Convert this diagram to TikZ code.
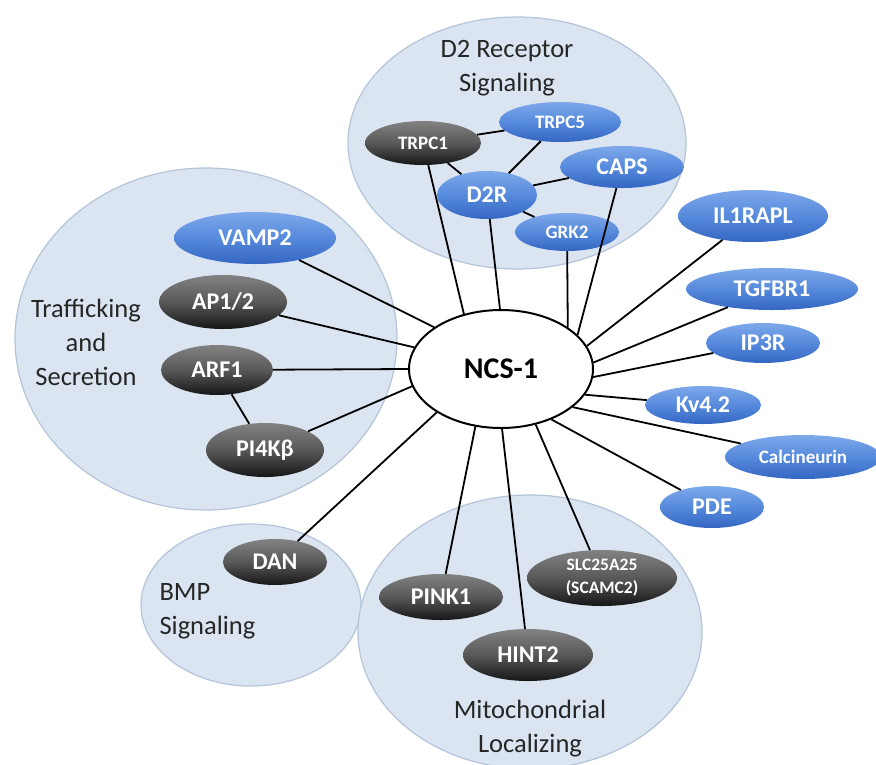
\documentclass[tikz,border=0pt]{standalone}
\usepackage{fontspec}
\setmainfont{Carlito}
\usetikzlibrary{shapes.geometric}
\usepackage{xcolor}

\definecolor{zonefill}{RGB}{219,229,241}
\definecolor{zoneline}{RGB}{180,196,218}
\definecolor{bluetop}{RGB}{126,168,234}
\definecolor{bluemid}{RGB}{86,138,220}
\definecolor{bluebot}{RGB}{52,102,194}
\definecolor{darktop}{RGB}{130,130,130}
\definecolor{darkmid}{RGB}{88,88,88}
\definecolor{darkbot}{RGB}{22,22,22}

\begin{document}
\begin{tikzpicture}[x=1pt,y=-1pt,
					zone/.style={draw=zoneline, line width=1.2pt, fill=zonefill},
					zonelabel/.style={align=center, text=black!85, font=\fontsize{26.5}{34}\selectfont},
					prot/.style={ellipse, inner sep=0pt, text=white, align=center, font=\fontsize{24}{28}\selectfont\bfseries},
					smalltext/.style={font=\fontsize{19}{23}\selectfont\bfseries},
					blueprot/.style={prot, top color=bluetop, bottom color=bluebot, middle color=bluemid},
					darkprot/.style={prot, top color=darktop, bottom color=darkbot, middle color=darkmid},
					link/.style={line width=1.8pt, black}]
    \useasboundingbox (0,0) rectangle (876,764);
    % Groups
    \draw[zone] (517,143) ellipse [x radius=169pt, y radius=126pt];
    \draw[zone] (206,339) ellipse [x radius=191pt, y radius=171pt];
    \draw[zone] (251,605) ellipse [x radius=110pt, y radius=81pt];
    \draw[zone] (530,632) ellipse [x radius=172pt, y radius=137pt];
    \node[zonelabel] (d2lbl) at (507,68) {D2 Receptor\\Signaling};
    \node[zonelabel] (traflbl) at (86,342) {Trafficking\\and\\Secretion};
    \node[zonelabel, align=left, anchor=west] (bmplbl) at (156,611) {BMP\\Signaling};
    \node[zonelabel] (mitolbl) at (530,729) {Mitochondrial\\Localizing};
    % Place nodes
    \node[draw, ellipse, line width=2pt, fill=white, inner sep=0pt, minimum width=184pt, minimum height=118pt,
    	font=\fontsize{30}{34}\selectfont\bfseries] (NCS) at (501,369) {NCS-1};
    \node[darkprot, smalltext, minimum width=116pt, minimum height=44pt] (TRPC1) at (423,143) {TRPC1};
    \node[blueprot, smalltext, minimum width=122pt, minimum height=40pt] (TRPC5) at (560,122) {TRPC5};
    \node[blueprot, minimum width=100pt, minimum height=48pt] (D2R) at (487,195) {D2R};
    \node[blueprot, minimum width=124pt, minimum height=42pt] (CAPS) at (622,167) {CAPS};
    \node[blueprot, smalltext, minimum width=104pt, minimum height=38pt] (GRK2) at (567,232) {GRK2};
    \node[blueprot, minimum width=162pt, minimum height=52pt] (VAMP2) at (255,238) {VAMP2};
    \node[darkprot, minimum width=128pt, minimum height=54pt] (AP) at (223,302) {AP1/2};
    \node[darkprot, minimum width=112pt, minimum height=50pt] (ARF1) at (217,370) {ARF1};
    \node[darkprot, minimum width=118pt, minimum height=54pt] (PIK) at (265,450) {PI4Kβ};
    \node[blueprot, minimum width=150pt, minimum height=52pt] (IL1RAPL) at (753,216) {IL1RAPL};
    \node[blueprot, minimum width=172pt, minimum height=42pt] (TGFBR1) at (772,289) {TGFBR1};
    \node[blueprot, minimum width=114pt, minimum height=40pt] (IP3R) at (763,343) {IP3R};
    \node[blueprot, minimum width=116pt, minimum height=38pt] (Kv) at (703,405) {Kv4.2};
    \node[blueprot, smalltext, minimum width=156pt, minimum height=44pt] (Calc) at (803,457) {Calcineurin};
    \node[blueprot, minimum width=104pt, minimum height=42pt] (PDE) at (712,507) {PDE};
    \node[darkprot, minimum width=104pt, minimum height=46pt] (DAN) at (275,562) {DAN};
    \node[darkprot, minimum width=124pt, minimum height=46pt] (PINK1) at (441,597) {PINK1};
    \node[darkprot, minimum width=130pt, minimum height=52pt] (HINT2) at (528,655) {HINT2};
    \node[darkprot, font=\fontsize{17.5}{23}\selectfont\bfseries, minimum width=150pt, minimum height=56pt] (SLC) at (602,578)
    	{SLC25A25\\(SCAMC2)};
    % Draw edges
    \draw[link] (TRPC1) -- (TRPC5);
    \draw[link] (TRPC1) -- (D2R);
    \draw[link] (TRPC5) -- (D2R);
    \draw[link] (D2R) -- (CAPS);
    \draw[link] (D2R) -- (GRK2);
    \draw[link] (ARF1) -- (PIK);
    \draw[link] (TRPC1) -- (NCS.124);
    \draw[link] (D2R) -- (NCS.91);
    \draw[link] (GRK2) -- (NCS.32);
    \draw[link] (CAPS) -- (NCS.24);
    \draw[link] (IL1RAPL) -- (NCS.15);
    \draw[link] (TGFBR1) -- (NCS.4);
    \draw[link] (IP3R) -- (NCS.-5);
    \draw[link] (Kv) -- (NCS.-17);
    \draw[link] (Calc) -- (NCS.-28);
    \draw[link] (PDE) -- (NCS.-45);
    \draw[link] (SLC) -- (NCS.-58);
    \draw[link] (HINT2) -- (NCS.-89);
    \draw[link] (PINK1) -- (NCS.-114);
    \draw[link] (DAN) -- (NCS.-146);
    \draw[link] (PIK) -- (NCS.-169);
    \draw[link] (ARF1) -- (NCS.west);
    \draw[link] (AP) -- (NCS.166);
    \draw[link] (VAMP2) -- (NCS.148);
\end{tikzpicture}
\end{document}
